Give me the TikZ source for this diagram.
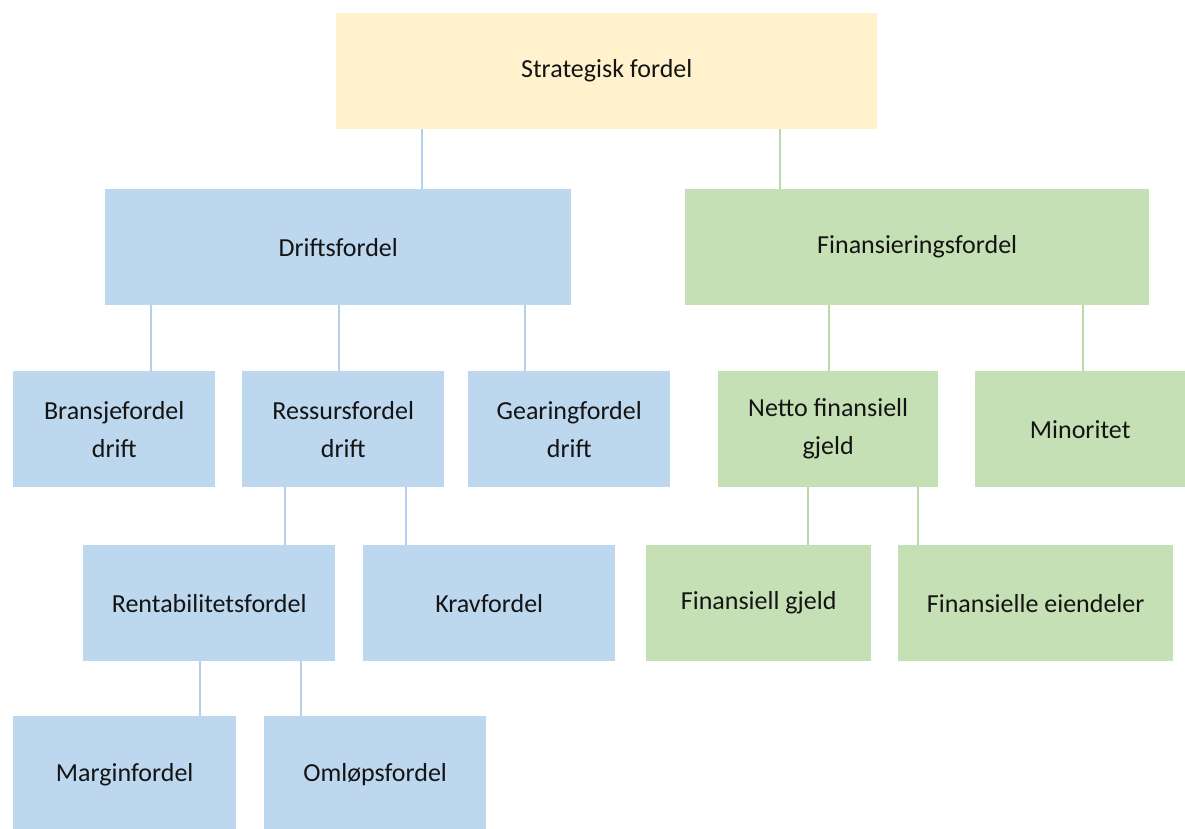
\documentclass[tikz,border=0pt]{standalone}
\usepackage{fontspec}
\setmainfont{Carlito}
\definecolor{goldbox}{HTML}{FFF2CC}
\definecolor{bluebox}{HTML}{BDD7EE}
\definecolor{greenbox}{HTML}{C5E0B4}
\definecolor{bluelink}{HTML}{B4D0EA}
\definecolor{greenlink}{HTML}{BCDAA8}
\definecolor{inktext}{HTML}{141414}
\tikzset{
  box/.style={anchor=north west, inner sep=0pt, align=center, text=inktext,
    font=\fontsize{26}{38}\selectfont, minimum height=116pt},
  goldnode/.style={box, fill=goldbox},
  bluenode/.style={box, fill=bluebox},
  greennode/.style={box, fill=greenbox},
  bluecon/.style={draw=bluelink, line width=1.3pt},
  greencon/.style={draw=greenlink, line width=1.3pt},
}
\begin{document}
\begin{tikzpicture}[x=1pt,y=-1pt]
\useasboundingbox[fill=white] (0,0) rectangle (1185,829);
\clip (0,0) rectangle (1185,829);

% top level
\node[goldnode, minimum width=541pt] (strat) at (336,13) {Strategisk fordel};

% second level
\node[bluenode, minimum width=466pt] (drift) at (105,189) {Driftsfordel};
\node[greennode, minimum width=464pt] (finans) at (685,189) {Finansieringsfordel};

% third level
\node[bluenode, minimum width=202pt] (bransje) at (13,371) {Bransjefordel\\drift};
\node[bluenode, minimum width=202pt] (ressurs) at (242,371) {Ressursfordel\\drift};
\node[bluenode, minimum width=202pt] (gearing) at (468,371) {Gearingfordel\\drift};
\node[greennode, minimum width=220pt] (netto) at (718,371) {Netto finansiell\\gjeld};
\node[greennode, minimum width=210pt] (minor) at (975,371) {Minoritet};

% fourth level
\node[bluenode, minimum width=252pt] (rentab) at (83,545) {Rentabilitetsfordel};
\node[bluenode, minimum width=252pt] (krav) at (363,545) {Kravfordel};
\node[greennode, minimum width=225pt] (fingjeld) at (646,545) {Finansiell gjeld};
\node[greennode, minimum width=275pt] (fineiend) at (898,545) {Finansielle eiendeler};

% fifth level
\node[bluenode, minimum width=223pt] (margin) at (13,716) {Marginfordel};
\node[bluenode, minimum width=222pt] (omlop) at (264,716) {Omløpsfordel};

% connectors
\draw[bluecon] (strat.south -| 422,0) -- (drift.north -| 422,0);
\draw[greencon] (strat.south -| 780,0) -- (finans.north -| 780,0);
\draw[bluecon] (drift.south -| 151,0) -- (bransje.north -| 151,0);
\draw[bluecon] (drift.south -| 339,0) -- (ressurs.north -| 339,0);
\draw[bluecon] (drift.south -| 525,0) -- (gearing.north -| 525,0);
\draw[greencon] (finans.south -| 829,0) -- (netto.north -| 829,0);
\draw[greencon] (finans.south -| 1083,0) -- (minor.north -| 1083,0);
\draw[bluecon] (ressurs.south -| 285,0) -- (rentab.north -| 285,0);
\draw[bluecon] (ressurs.south -| 406,0) -- (krav.north -| 406,0);
\draw[greencon] (netto.south -| 808,0) -- (fingjeld.north -| 808,0);
\draw[greencon] (netto.south -| 918,0) -- (fineiend.north -| 918,0);
\draw[bluecon] (rentab.south -| 200,0) -- (margin.north -| 200,0);
\draw[bluecon] (rentab.south -| 301,0) -- (omlop.north -| 301,0);
\end{tikzpicture}
\end{document}
